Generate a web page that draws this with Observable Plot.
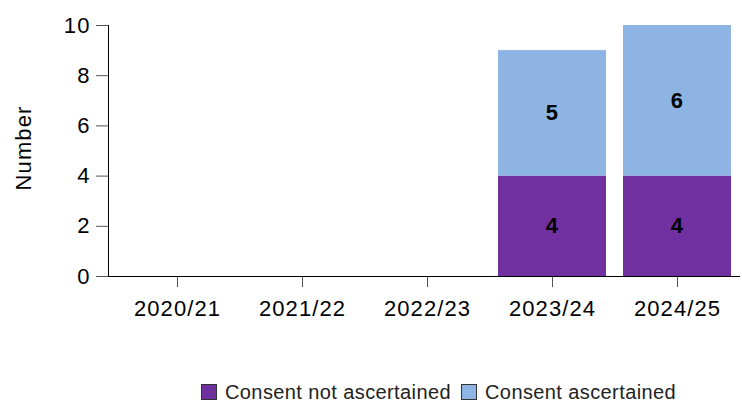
<!DOCTYPE html>
<html>
<head>
<meta charset="utf-8">
<script src="https://cdn.jsdelivr.net/npm/d3@7"></script>
<script src="https://cdn.jsdelivr.net/npm/@observablehq/plot@0.6"></script>
<style>
  body { margin: 0; background: #fff; font-family: "Liberation Sans", Arial, sans-serif; }
  #wrap { position: relative; width: 742px; height: 401px; }
  #legend { position: absolute; left: 201px; top: 381px; height: 22px; display: flex; align-items: center; font-size: 20px; letter-spacing: 0.4px; color: #222; }
  .sw { width: 14px; height: 14px; border: 1px solid #333; display: inline-block; }
</style>
</head>
<body>
<div id="wrap"><div id="chart"></div><div id="legend"></div></div>
<script>
const years = ["2020/21", "2021/22", "2022/23", "2023/24", "2024/25"];
const seriesNames = ["Consent not ascertained", "Consent ascertained"];
const notAscertained = [0, 0, 0, 4, 4];
const ascertained = [0, 0, 0, 5, 6];
const colors = ["#7030A0", "#8EB4E3"];
const yTicks = [0, 2, 4, 6, 8, 10];
const yLabel = "Number";

const data = [];
[notAscertained, ascertained].forEach((vals, s) => {
  years.forEach((yr, i) => data.push({year: yr, series: seriesNames[s], value: vals[i]}));
});

const chart = Plot.plot({
  width: 742,
  height: 345,
  marginLeft: 108,
  marginRight: 2,
  marginTop: 25,
  marginBottom: 69,
  style: {fontFamily: "Liberation Sans, Arial, sans-serif", fontSize: "22px", letterSpacing: "1.1px", color: "#000", background: "#fff"},
  x: {domain: years, range: [114.5, 739.5], paddingInner: 0.136, paddingOuter: 0.068, label: null},
  y: {domain: [0, 10], label: null},
  color: {domain: seriesNames, range: colors},
  marks: [
    Plot.barY(data, {x: "year", y: "value", fill: "series", z: "series", order: seriesNames}),
    Plot.text(data, Plot.stackY({x: "year", y: "value", z: "series", order: seriesNames, text: d => d.value > 0 ? String(d.value) : null, fontWeight: "bold", fontSize: 22, fill: "#000"})),
    Plot.axisY({ticks: yTicks, tickSize: 12, tickPadding: 6, stroke: "#555", fill: "#000", label: null}),
    Plot.axisX({tickSize: 11, tickPadding: 13, stroke: "#555", fill: "#000", label: null}),
    Plot.frame({anchor: "left", stroke: "#000"}),
    Plot.ruleY([0], {stroke: "#000"}),
    Plot.text([yLabel], {frameAnchor: "left", textAnchor: "middle", dx: -85, dy: -3, rotate: -90, fontSize: 22, fill: "#000"})
  ]
});
document.getElementById("chart").appendChild(chart);

const legend = document.getElementById("legend");
seriesNames.forEach((name, i) => {
  const sw = document.createElement("span");
  sw.className = "sw";
  sw.style.background = colors[i];
  sw.style.marginRight = "8px";
  legend.appendChild(sw);
  const t = document.createElement("span");
  t.textContent = name;
  t.style.marginRight = "10px";
  legend.appendChild(t);
});
</script>
</body>
</html>
